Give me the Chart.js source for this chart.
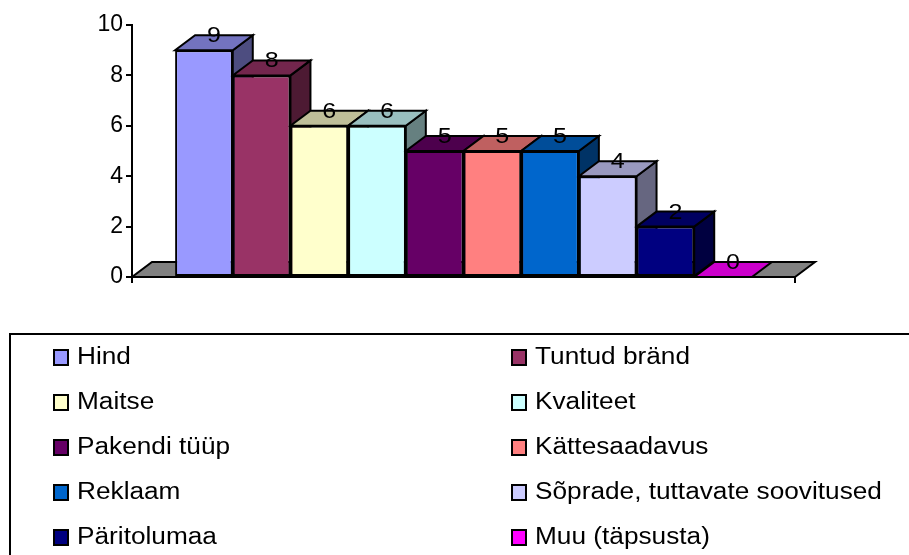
<!DOCTYPE html>
<html>
<head>
<meta charset="utf-8">
<script src="https://cdn.jsdelivr.net/npm/chart.js@4.4.1/dist/chart.umd.min.js"></script>
<style>
  html, body { margin: 0; padding: 0; background: #fff; }
  #wrap { width: 909px; height: 555px; }
</style>
</head>
<body>
<div id="wrap"><canvas id="graafik"></canvas></div>
<script>
const kategooriad = ['Hind', 'Tuntud bränd', 'Maitse', 'Kvaliteet', 'Pakendi tüüp', 'Kättesaadavus',
  'Reklaam', 'Sõprade, tuttavate soovitused', 'Päritolumaa', 'Muu (täpsusta)'];
const vastused = [9, 8, 6, 6, 5, 5, 5, 4, 2, 0];
const varvid = ['#9999FF', '#993366', '#FFFFCC', '#CCFFFF', '#660066', '#FF8080',
  '#0066CC', '#CCCCFF', '#000080', '#FF00FF'];
const yTicks = [0, 2, 4, 6, 8, 10];

const FONT = '"Liberation Sans", Arial, Helvetica, sans-serif';
const DX = 20, DY = -15;   // 3D depth offset
const VENITUS = 1.14;      // text looks a bit wide in the original

function tumedam(hex, k) {
  const n = parseInt(hex.slice(1), 16);
  const r = Math.round(((n >> 16) & 255) * k);
  const g = Math.round(((n >> 8) & 255) * k);
  const b = Math.round((n & 255) * k);
  return 'rgb(' + r + ',' + g + ',' + b + ')';
}

function hulknurk(ctx, pts, fill) {
  ctx.beginPath();
  ctx.moveTo(pts[0][0], pts[0][1]);
  for (let i = 1; i < pts.length; i++) ctx.lineTo(pts[i][0], pts[i][1]);
  ctx.closePath();
  ctx.fillStyle = fill;
  ctx.fill();
  ctx.stroke();
}

function laiText(ctx, txt, x, y, align) {
  ctx.save();
  ctx.translate(x, y);
  ctx.scale(VENITUS, 1);
  ctx.textAlign = align;
  ctx.fillText(txt, 0, 0);
  ctx.restore();
}

const ruumiline = {
  id: 'ruumiline',
  beforeDatasetsDraw(chart) {
    const ctx = chart.ctx;
    const a = chart.chartArea;
    const base = chart.scales.y.getPixelForValue(0);
    ctx.save();
    ctx.strokeStyle = '#000';
    ctx.lineWidth = 2;
    // floor
    hulknurk(ctx, [[a.left, base], [a.right, base], [a.right + DX, base + DY], [a.left + DX, base + DY]], '#808080');
    // sides and tops, left to right, fronts come from Chart.js afterwards
    chart.data.datasets.forEach((ds, i) => {
      const bar = chart.getDatasetMeta(i).data[0];
      const w = bar.width;
      const l = bar.x - w / 2, r = bar.x + w / 2;
      const y = bar.y, b = bar.base;
      if (b - y > 0.5) {
        hulknurk(ctx, [[r, y], [r + DX, y + DY], [r + DX, b + DY], [r, b]], tumedam(varvid[i], 0.5));
      }
      hulknurk(ctx, [[l, y], [r, y], [r + DX, y + DY], [l + DX, y + DY]], tumedam(varvid[i], i === 9 ? 0.8 : 0.75));
    });
    ctx.restore();
  },
  afterDatasetsDraw(chart) {
    const ctx = chart.ctx;
    const a = chart.chartArea;
    const base = chart.scales.y.getPixelForValue(0);
    ctx.save();
    // category axis ticks at both ends
    ctx.strokeStyle = '#000';
    ctx.lineWidth = 2;
    ctx.beginPath();
    ctx.moveTo(a.left, base); ctx.lineTo(a.left, base + 6);
    ctx.moveTo(a.right, base); ctx.lineTo(a.right, base + 6);
    ctx.moveTo(a.left, base); ctx.lineTo(a.right, base);
    ctx.stroke();
    // value labels
    ctx.fillStyle = '#000';
    ctx.font = '22px ' + FONT;
    ctx.textBaseline = 'middle';
    chart.data.datasets.forEach((ds, i) => {
      const bar = chart.getDatasetMeta(i).data[0];
      laiText(ctx, String(ds.data[0]), bar.x + DX / 2, bar.y + DY + 1, 'center');
    });
    ctx.restore();
  },
  afterDraw(chart) {
    const ctx = chart.ctx;
    ctx.save();
    ctx.strokeStyle = '#000';
    ctx.lineWidth = 2;
    ctx.strokeRect(10, 334, 1000, 300);
    ctx.font = '23px ' + FONT;
    ctx.textBaseline = 'middle';
    kategooriad.forEach((nimi, i) => {
      const veerg = i % 2, rida = Math.floor(i / 2);
      const x = veerg ? 512 : 54;
      const cy = 357 + rida * 45;
      ctx.fillStyle = varvid[i];
      ctx.fillRect(x, cy - 7, 14, 15);
      ctx.strokeRect(x, cy - 7, 14, 15);
      ctx.fillStyle = '#000';
      laiText(ctx, nimi, x + 23, cy + 1, 'left');
    });
    ctx.restore();
  }
};

const ctx = document.getElementById('graafik').getContext('2d');
const graafik = new Chart(ctx, {
  type: 'bar',
  data: {
    labels: [''],
    datasets: kategooriad.map((nimi, i) => ({
      label: nimi,
      data: [vastused[i]],
      backgroundColor: varvid[i],
      borderColor: '#000',
      borderWidth: 2,
      borderSkipped: false,
      categoryPercentage: 0.87,
      barPercentage: 1
    }))
  },
  options: {
    responsive: true,
    maintainAspectRatio: false,
    devicePixelRatio: 1,
    animation: false,
    layout: { padding: { left: 92, top: 25, right: 114, bottom: 278 } },
    plugins: {
      legend: { display: false },
      tooltip: { enabled: false }
    },
    scales: {
      x: { display: false },
      y: {
        min: 0,
        max: 10,
        afterBuildTicks: s => { s.ticks = yTicks.map(v => ({ value: v })); },
        afterFit: s => { s.width = 40; },
        ticks: { color: '#000', padding: 3, font: { family: FONT, size: 23 } },
        grid: { drawOnChartArea: false, drawTicks: true, tickLength: 6, color: '#000', lineWidth: 2 },
        border: { display: true, color: '#000', width: 2 }
      }
    }
  },
  plugins: [ruumiline]
});
</script>
</body>
</html>
